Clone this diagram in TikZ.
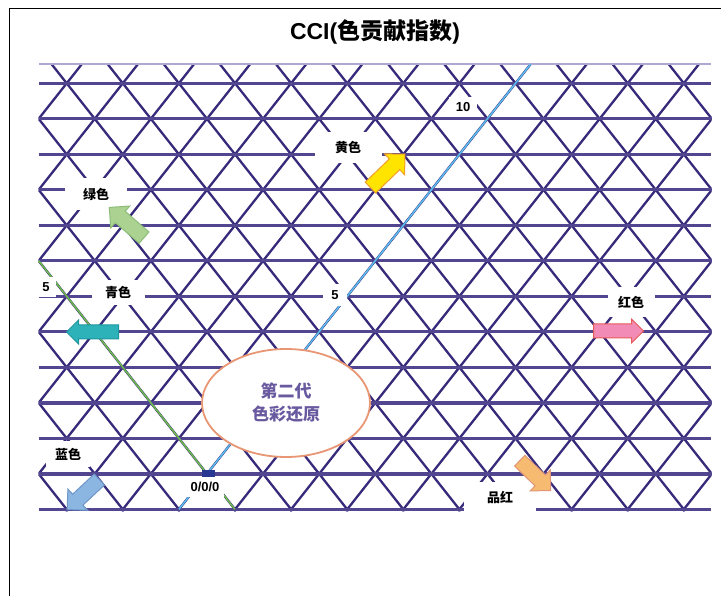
\documentclass[tikz,border=0pt]{standalone}
\usepackage{fontspec}
\setmainfont{Liberation Sans}
\newfontfamily\cjk{Noto Sans CJK SC}
\usetikzlibrary{shapes.geometric,shapes.arrows}
\definecolor{gridH}{RGB}{82,70,145}
\definecolor{gridD}{RGB}{55,42,122}
\definecolor{gridTop}{RGB}{175,168,210}
\definecolor{skyline}{RGB}{90,190,240}
\definecolor{grnline}{RGB}{110,190,75}
\definecolor{sqblue}{RGB}{40,55,145}
\definecolor{elltext}{RGB}{105,90,160}
\definecolor{ellborder}{RGB}{232,150,115}
\begin{document}
\begin{tikzpicture}[x=1pt,y=-1pt,
  hline/.style={gridH,line width=3.4pt},
  dline/.style={gridD,line width=2.3pt},
  lbl/.style={fill=white,inner sep=0pt,font=\bfseries\fontsize{13}{15}\selectfont},
  blockarrow/.style={single arrow,inner sep=7pt,line width=1pt,
     single arrow head extend=7pt,single arrow head indent=0pt}]
\useasboundingbox (0,0) rectangle (721,596);
\fill[white] (0,0) rectangle (721,596);
\draw[black,line width=1.4pt] (9.3,596) -- (9.3,8.3) -- (721,8.3);
\node[font=\bfseries\fontsize{23}{27}\selectfont] (title) at (375,32) {CCI({\cjk 色贡献指数})};
% grid
\begin{scope}
\clip (38.7,63) rectangle (711.5,511);
\foreach \k in {-7,...,19} {
  \draw[dline] ({66.7+56.1*\k-15.25},64) -- ({66.7+56.1*\k+337.9},511);
  \draw[dline] ({66.7+56.1*\k+15.25},64) -- ({66.7+56.1*\k-337.9},511);
}
\end{scope}
\foreach \j in {0,...,12} \draw[hline] (38.7,{83.3+35.5*\j}) -- (711,{83.3+35.5*\j});
\draw[gridTop,line width=2.5pt] (38.7,64) -- (711,64);
% coloured axes
\coordinate (origin) at (206.95,473.8);
\coordinate (btop) at (530.75,64);
\coordinate (bbot) at (178.9,509.3);
\coordinate (gtop) at (38.7,260.8);
\coordinate (gbot) at (234.9,509.3);
\draw[skyline,line width=1.5pt] (btop) -- (origin) -- (bbot);
\draw[grnline,line width=1.5pt] (gtop) -- (origin) -- (gbot);
% labels with white backing
\node[lbl,minimum width=67,minimum height=31] (yl) at (348,148) {\cjk 黄色};
\node[lbl,minimum width=62,minimum height=32] (gl) at (96,194) {\cjk 绿色};
\node[lbl,minimum width=53,minimum height=25] (cl) at (118,293) {\cjk 青色};
\node[lbl,minimum width=47,minimum height=30] (rl) at (631,302) {\cjk 红色};
\node[lbl,minimum width=72,minimum height=32] (ml) at (500,498) {\cjk 品红};
\node[lbl,minimum width=44,minimum height=26] (bl) at (68,454) {\cjk 蓝色};
\node[lbl,minimum width=38,minimum height=20] (zl) at (205,487) {0/0/0};
\node[lbl,minimum width=20,minimum height=20] (f1) at (46,287) {5};
\node[lbl,minimum width=24,minimum height=22] (f2) at (335,295) {5};
\node[lbl,minimum width=28,minimum height=20] (t1) at (463,107) {10};
\node[fill=sqblue,minimum width=13,minimum height=7,inner sep=0pt] (sq) at (208.5,473.5) {};
% ellipse
\node[ellipse,draw=ellborder,line width=1.8pt,fill=white,minimum width=168,minimum height=108,
      align=center,text=elltext,font=\bfseries\fontsize{17}{23}\selectfont] (ell) at (286,403)
      {\cjk 第二代\\\cjk 色彩还原};
% block arrows
\node[blockarrow,draw={rgb,255:red,240;green,160;blue,40},fill={rgb,255:red,255;green,228;blue,0},
      minimum height=48,rotate=44] (ya) at (385,173.5) {};
\node[blockarrow,draw={rgb,255:red,140;green,190;blue,120},fill={rgb,255:red,172;green,210;blue,145},
      minimum height=46,rotate=139] (ga) at (129.5,225) {};
\node[blockarrow,draw={rgb,255:red,30;green,150;blue,160},fill={rgb,255:red,45;green,178;blue,185},
      inner sep=6.5pt,single arrow head extend=5pt,minimum height=52,rotate=180] (ca) at (96,332) {};
\node[blockarrow,draw={rgb,255:red,110;green,150;blue,200},fill={rgb,255:red,140;green,182;blue,226},
      minimum height=44,rotate=223] (ba) at (86,492) {};
\node[blockarrow,draw={rgb,255:red,230;green,90;blue,90},fill={rgb,255:red,242;green,140;blue,182},
      inner sep=6.5pt,single arrow head extend=5pt,minimum height=50,rotate=0] (pa) at (615,331) {};
\node[blockarrow,draw={rgb,255:red,225;green,150;blue,120},fill={rgb,255:red,246;green,186;blue,112},
      minimum height=43,rotate=-44] (oa) at (532.5,473) {};
\end{tikzpicture}
\end{document}
